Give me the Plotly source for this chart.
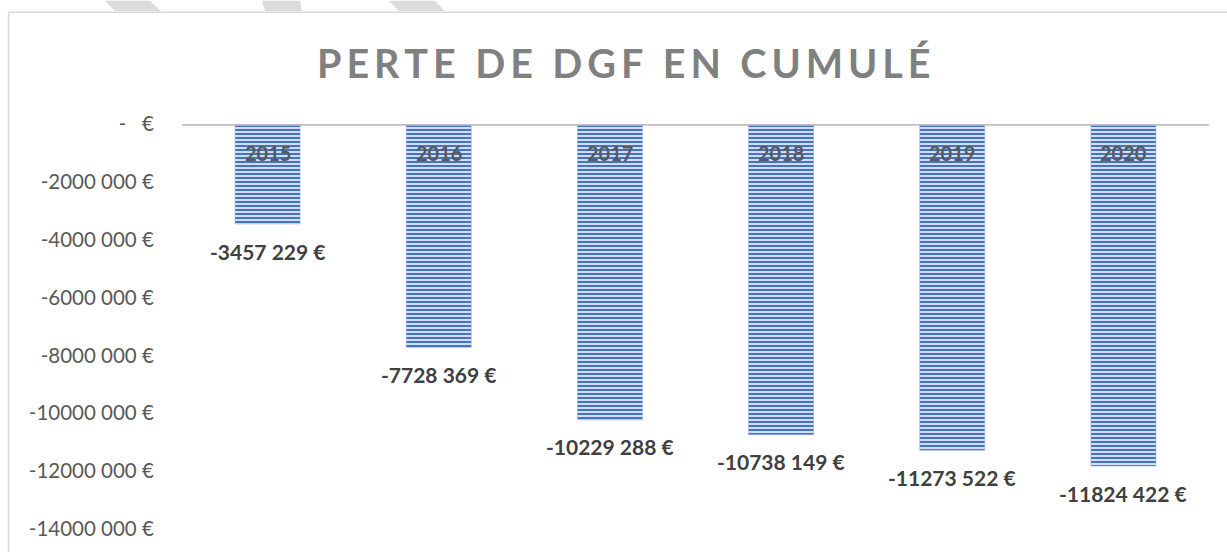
import plotly.graph_objects as go

years = ["2015", "2016", "2017", "2018", "2019", "2020"]
values = [-3457229, -7728369, -10229288, -10738149, -11273522, -11824422]
value_labels = ["-3457 229 €", "-7728 369 €", "-10229 288 €", "-10738 149 €", "-11273 522 €", "-11824 422 €"]
tick_vals = [0, -2000000, -4000000, -6000000, -8000000, -10000000, -12000000, -14000000]
tick_text = ["-   €", "-2000 000 €", "-4000 000 €", "-6000 000 €", "-8000 000 €", "-10000 000 €", "-12000 000 €", "-14000 000 €"]
title_text = "PERTE DE DGF EN CUMULÉ"

W, H = 1227, 552
ML, MR, MT, MB = 182, 18, 124, 17
PW, PH = W - ML - MR, H - MT - MB

def px(x):
    return (x - ML) / PW

def py(y):
    return (H - MB - y) / PH

fig = go.Figure()
fig.add_trace(go.Bar(
    x=years, y=values, width=0.38,
    marker=dict(
        color="#c9d7f1",
        line=dict(color="#8eaadf", width=0.5),
        pattern=dict(shape="-", size=4, solidity=0.5, fgcolor="#4472C4", bgcolor="#d4def3", fillmode="replace"),
    ),
    hoverinfo="skip",
))

annotations = []
for i, (yr, v, lab) in enumerate(zip(years, values, value_labels)):
    annotations.append(dict(x=i, y=0, xref="x", yref="y", text=yr, showarrow=False,
                            yanchor="middle", yshift=-29,
                            font=dict(family="Lato", size=20, color="#595959", weight="bold")))
    annotations.append(dict(x=i, y=v, xref="x", yref="y", text=lab, showarrow=False,
                            yanchor="middle", yshift=-27,
                            font=dict(family="Lato", size=21, color="#404040", weight="bold")))

spaced = "\u2009".join(list(title_text))
annotations.append(dict(x=px(623), y=py(62), xref="paper", yref="paper", text=spaced, showarrow=False,
                        xanchor="center", yanchor="middle",
                        font=dict(family="Lato", size=39.5, color="#808080", weight="bold")))

shapes = []
shapes.append(dict(type="line", xref="paper", yref="y", x0=0, x1=1, y0=0, y1=0,
                   line=dict(color="#BFBFBF", width=3.5), layer="above"))
shapes.append(dict(type="line", xref="paper", yref="paper", x0=px(8.5), x1=px(1240), y0=py(10.5), y1=py(10.5),
                   line=dict(color="#D9D9D9", width=1.5)))
shapes.append(dict(type="line", xref="paper", yref="paper", x0=px(8.5), x1=px(8.5), y0=py(10.5), y1=py(560),
                   line=dict(color="#D9D9D9", width=1.5)))
for (a, b, c, d) in [(105, 150, 161, 115), (262, 300, 302, 265), (389, 435, 445, 399)]:
    path = f"M {px(a)} {py(-1)} L {px(b)} {py(-1)} L {px(c)} {py(9.5)} L {px(d)} {py(9.5)} Z"
    shapes.append(dict(type="path", xref="paper", yref="paper", path=path,
                       fillcolor="#DCDCDC", line=dict(width=0)))

fig.update_layout(
    width=W, height=H,
    margin=dict(l=ML, r=MR, t=MT, b=MB),
    paper_bgcolor="white", plot_bgcolor="white",
    showlegend=False,
    annotations=annotations,
    shapes=shapes,
    xaxis=dict(type="category", range=[-0.5, 5.5], showticklabels=False, showgrid=False,
               zeroline=False, showline=False, ticks=""),
    yaxis=dict(range=[-14000000, 0], tickvals=tick_vals, ticktext=tick_text,
               showgrid=False, zeroline=False, showline=False,
               ticks="outside", ticklen=23, tickcolor="rgba(0,0,0,0)",
               tickfont=dict(family="Lato", size=20.5, color="#595959")),
)

fig.write_html("out.html", config={"displayModeBar": False},
               post_script="document.body.style.margin='0';document.body.style.overflow='hidden';")
